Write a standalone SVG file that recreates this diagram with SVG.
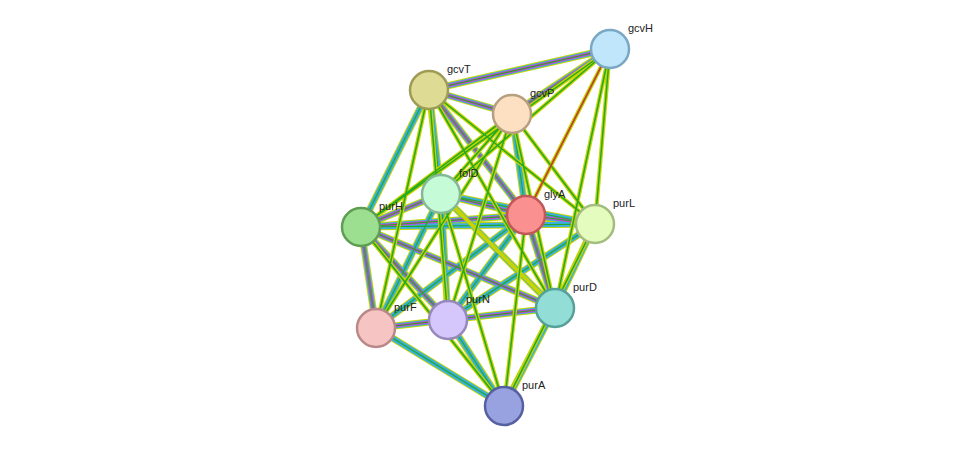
<svg xmlns="http://www.w3.org/2000/svg" width="975" height="452" viewBox="0 0 975 452">
<style>
.e1{stroke:#c8d400;stroke-width:7}
.e2{stroke:#3ab0e0;stroke-width:5}
.e3{stroke:#d040d0;stroke-width:3}
.e4{stroke:#22aa22;stroke-width:1.2}
.l1{stroke:#c8d400;stroke-width:4}
.l2{stroke:#22aa22;stroke-width:1.5}
.n{stroke-width:2.5}
text{font-family:"Liberation Sans",Arial,sans-serif;font-size:11px;fill:#222}
</style>
<defs>
<g id="E">
</g>
</defs>
<rect width="975" height="452" fill="#fff"/>
<g id="connectors" fill="none">
<g id="full">
<path class="e1" d="M361,227L376,328M361,227L448,320M361,227L555,308M361,227L526,215M361,227L441,194M361,227L595,224M376,328L448,320M376,328L526,215M376,328L555,308M448,320L555,308M448,320L526,215M448,320L441,194M448,320L595,224M441,194L526,215M441,194L595,224M526,215L595,224M526,215L555,308M555,308L595,224M429,90L512,114M429,90L610,49M512,114L610,49M429,90L526,215M512,114L526,215M429,90L441,194M504,406L555,308M504,406L448,320M504,406L376,328M441,194L555,308M376,328L441,194M361,227L429,90"/>
<path class="e2" d="M361,227L376,328M361,227L448,320M361,227L555,308M361,227L526,215M361,227L441,194M361,227L595,224M376,328L448,320M376,328L526,215M376,328L555,308M448,320L555,308M448,320L526,215M448,320L441,194M448,320L595,224M441,194L526,215M441,194L595,224M526,215L595,224M526,215L555,308M555,308L595,224M429,90L512,114M429,90L610,49M512,114L610,49M429,90L526,215M512,114L526,215M429,90L441,194M504,406L555,308M504,406L448,320M504,406L376,328M441,194L555,308M376,328L441,194M361,227L429,90"/>
<path class="e3" d="M361,227L376,328M361,227L448,320M361,227L555,308M361,227L526,215M361,227L441,194M376,328L448,320M448,320L555,308M441,194L526,215M526,215L595,224M526,215L555,308M429,90L512,114M429,90L610,49M512,114L610,49M429,90L526,215"/>
<path class="e4" d="M361,227L376,328M361,227L448,320M361,227L555,308M361,227L526,215M361,227L441,194M361,227L595,224M376,328L448,320M376,328L526,215M376,328L555,308M448,320L555,308M448,320L526,215M448,320L441,194M448,320L595,224M441,194L526,215M441,194L595,224M526,215L595,224M526,215L555,308M555,308L595,224M429,90L512,114M429,90L610,49M512,114L610,49M429,90L526,215M512,114L526,215M429,90L441,194M504,406L555,308M504,406L448,320M504,406L376,328M441,194L555,308M376,328L441,194M361,227L429,90" stroke="#222"/>
</g>
<g id="light">
<path class="l1" d="M610,49L441,194M610,49L526,215M610,49L595,224M610,49L555,308M610,49L361,227M512,114L441,194M512,114L595,224M512,114L555,308M512,114L448,320M512,114L376,328M512,114L361,227M429,90L595,224M429,90L555,308M429,90L448,320M429,90L376,328M504,406L526,215M504,406L595,224M504,406L441,194M504,406L361,227M441,194L555,308"/>
<path class="l2" d="M610,49L441,194M610,49L526,215M610,49L595,224M610,49L555,308M610,49L361,227M512,114L441,194M512,114L595,224M512,114L555,308M512,114L448,320M512,114L376,328M512,114L361,227M429,90L595,224M429,90L555,308M429,90L448,320M429,90L376,328M504,406L526,215M504,406L595,224M504,406L441,194M504,406L361,227"/>
<path d="M610,49L526,215" stroke="#e03030" stroke-width="1.5"/>
</g>
</g>
<g id="gcvH"><circle class="n" cx="610" cy="49" r="19" fill="#bfe6fa" stroke="#7aa8c4"/><text x="628" y="32">gcvH</text></g>
<g id="gcvT"><circle class="n" cx="429" cy="90" r="19" fill="#dedb94" stroke="#9e9b55"/><text x="447" y="73">gcvT</text></g>
<g id="gcvP"><circle class="n" cx="512" cy="114" r="19" fill="#fde0c2" stroke="#b89e80"/><text x="530" y="97">gcvP</text></g>
<g id="folD"><circle class="n" cx="441" cy="194" r="19" fill="#c6fbd8" stroke="#85b895"/><text x="459" y="177">folD</text></g>
<g id="glyA"><circle class="n" cx="526" cy="215" r="19" fill="#fb9090" stroke="#c05858"/><text x="544" y="198">glyA</text></g>
<g id="purL"><circle class="n" cx="595" cy="224" r="19" fill="#e4fdbe" stroke="#a3bd80"/><text x="613" y="207">purL</text></g>
<g id="purH"><circle class="n" cx="361" cy="227" r="19" fill="#9ddf90" stroke="#5e9e52"/><text x="379" y="210">purH</text></g>
<g id="purD"><circle class="n" cx="555" cy="308" r="19" fill="#92ddd5" stroke="#55a097"/><text x="573" y="291">purD</text></g>
<g id="purN"><circle class="n" cx="448" cy="320" r="19" fill="#d5c6fb" stroke="#9688bb"/><text x="466" y="303">purN</text></g>
<g id="purF"><circle class="n" cx="376" cy="328" r="19" fill="#f7c4c4" stroke="#b98888"/><text x="394" y="311">purF</text></g>
<g id="purA"><circle class="n" cx="504" cy="406" r="19" fill="#98a2e0" stroke="#5560a0"/><text x="522" y="389">purA</text></g>
</svg>
